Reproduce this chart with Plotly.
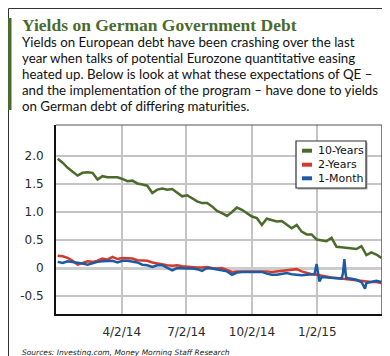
import plotly.graph_objects as go

# ---------------- data ----------------
weeks = [
    "2014-01-02", "2014-01-09", "2014-01-16", "2014-01-23", "2014-01-30",
    "2014-02-06", "2014-02-13", "2014-02-20", "2014-02-27", "2014-03-06",
    "2014-03-13", "2014-03-20", "2014-03-27", "2014-04-03", "2014-04-10",
    "2014-04-17", "2014-04-24", "2014-05-01", "2014-05-08", "2014-05-15",
    "2014-05-22", "2014-05-29", "2014-06-05", "2014-06-12", "2014-06-19",
    "2014-06-26", "2014-07-03", "2014-07-10", "2014-07-17", "2014-07-24",
    "2014-07-31", "2014-08-07", "2014-08-14", "2014-08-21", "2014-08-28",
    "2014-09-04", "2014-09-11", "2014-09-18", "2014-09-25", "2014-10-02",
    "2014-10-09", "2014-10-16", "2014-10-23", "2014-10-30", "2014-11-06",
    "2014-11-13", "2014-11-20", "2014-11-27", "2014-12-04", "2014-12-11",
    "2014-12-18", "2014-12-25", "2015-01-01", "2015-01-08", "2015-01-15",
    "2015-01-22", "2015-01-29", "2015-02-05", "2015-02-12", "2015-02-19",
    "2015-02-26", "2015-03-05", "2015-03-12", "2015-03-19", "2015-03-26",
    "2015-04-02",
]

ten_year = [
    1.95, 1.88, 1.79, 1.72, 1.65, 1.70, 1.71, 1.70, 1.58, 1.64,
    1.62, 1.62, 1.62, 1.59, 1.55, 1.56, 1.51, 1.49, 1.47, 1.34,
    1.40, 1.42, 1.40, 1.41, 1.35, 1.28, 1.30, 1.24, 1.19, 1.16,
    1.16, 1.10, 1.02, 0.98, 0.93, 1.00, 1.08, 1.04, 0.98, 0.92,
    0.89, 0.77, 0.88, 0.86, 0.83, 0.84, 0.77, 0.71, 0.77, 0.65,
    0.60, 0.60, 0.51, 0.50, 0.48, 0.54, 0.38, 0.37, 0.36, 0.35,
    0.34, 0.39, 0.23, 0.28, 0.24, 0.18,
]

two_year = [
    0.22, 0.21, 0.18, 0.13, 0.06, 0.09, 0.12, 0.11, 0.13, 0.17,
    0.15, 0.20, 0.16, 0.18, 0.17, 0.17, 0.14, 0.14, 0.13, 0.10,
    0.08, 0.06, 0.05, 0.04, 0.05, 0.03, 0.02, 0.02, 0.01, 0.01,
    0.02, 0.00, -0.01, 0.00, -0.04, -0.07, -0.06, -0.06, -0.05, -0.05,
    -0.05, -0.05, -0.06, -0.07, -0.06, -0.05, -0.05, -0.04, -0.02, -0.06,
    -0.09, -0.11, -0.12, -0.14, -0.16, -0.17, -0.18, -0.19, -0.20, -0.21,
    -0.23, -0.24, -0.24, -0.25, -0.25, -0.27,
]

one_month_dates = [
    "2014-01-02", "2014-01-09", "2014-01-16", "2014-01-23", "2014-01-30",
    "2014-02-06", "2014-02-13", "2014-02-20", "2014-02-27", "2014-03-06",
    "2014-03-13", "2014-03-20", "2014-03-27", "2014-04-03", "2014-04-10",
    "2014-04-17", "2014-04-24", "2014-05-01", "2014-05-08", "2014-05-15",
    "2014-05-22", "2014-05-29", "2014-06-05", "2014-06-12", "2014-06-19",
    "2014-06-26", "2014-07-03", "2014-07-10", "2014-07-17", "2014-07-24",
    "2014-07-31", "2014-08-07", "2014-08-14", "2014-08-21", "2014-08-28",
    "2014-09-04", "2014-09-11", "2014-09-18", "2014-09-25", "2014-10-02",
    "2014-10-09", "2014-10-16", "2014-10-23", "2014-10-30", "2014-11-06",
    "2014-11-13", "2014-11-20", "2014-11-27", "2014-12-04", "2014-12-11",
    "2014-12-18", "2014-12-25", "2014-12-29", "2015-01-01", "2015-01-05",
    "2015-01-08", "2015-01-15", "2015-01-22", "2015-01-29", "2015-02-05",
    "2015-02-07", "2015-02-09", "2015-02-11", "2015-02-12", "2015-02-19",
    "2015-02-26", "2015-03-05", "2015-03-10", "2015-03-12", "2015-03-19",
    "2015-03-26", "2015-04-02",
]

one_month = [
    0.11, 0.09, 0.12, 0.11, 0.10, 0.08, 0.06, 0.09, 0.11, 0.12,
    0.12, 0.13, 0.10, 0.13, 0.13, 0.11, 0.10, 0.06, 0.05, 0.02,
    0.05, 0.05, 0.00, -0.04, 0.00, -0.01, -0.01, -0.01, -0.02, -0.05,
    0.00, -0.01, -0.03, -0.04, -0.06, -0.12, -0.08, -0.07, -0.07, -0.06,
    -0.06, -0.07, -0.10, -0.12, -0.12, -0.11, -0.09, -0.11, -0.12, -0.13,
    -0.12, -0.12, -0.11, 0.07, -0.24, -0.16, -0.17, -0.17, -0.18, -0.19,
    -0.10, 0.16, -0.12, -0.18, -0.19, -0.21, -0.25, -0.37, -0.27, -0.25,
    -0.23, -0.25,
]

series_names = ["10-Years", "2-Years", "1-Month"]
series_colors = ["#4b6b2c", "#d23a2c", "#1c5aa6"]

y_tick_values = [-0.5, 0, 0.5, 1.0, 1.5, 2.0]
y_tick_labels = ["-0.5", "0", "0.5", "1.0", "1.5", "2.0"]
x_tick_values = ["2014-04-02", "2014-07-02", "2014-10-02", "2015-01-02"]
x_tick_labels = ["4/2/14", "7/2/14", "10/2/14", "1/2/15"]

title_text = "Yields on German Government Debt"
body_lines = [
    "Yields on European debt have been crashing over the last",
    "year when talks of potential Eurozone quantitative easing",
    "heated up. Below is look at what these expectations of QE \u2013",
    "and the implementation of the program \u2013 have done to yields",
    "on German debt of differing maturities.",
]
source_text = "Sources: Investing.com, Money Morning Staff Research"

# ---------------- figure ----------------
W, H = 390, 356
L, R, T, B = 48, 374, 117, 306  # plot area in pixels
pw, ph = R - L, B - T


def px(x):
    return (x - L) / pw


def py(y):
    return (B - y) / ph


fig = go.Figure()
xs_list = [weeks, weeks, one_month_dates]
ys_list = [ten_year, two_year, one_month]
for name, color, xs, ys in zip(series_names, series_colors, xs_list, ys_list):
    fig.add_trace(go.Scatter(
        x=xs, y=ys, mode="lines", name=name,
        line=dict(color=color, width=2.5), showlegend=False,
    ))

tick_font = dict(family="DejaVu Sans", size=12, color="#2a2a2a")

fig.update_layout(
    width=W, height=H,
    margin=dict(l=L, r=W - R, t=T, b=H - B),
    paper_bgcolor="white", plot_bgcolor="white",
    showlegend=False,
    xaxis=dict(
        type="date",
        range=["2013-12-30 15:00", "2015-04-02 22:00"],
        tickvals=x_tick_values, ticktext=x_tick_labels,
        tickfont=tick_font, ticks="", ticklabelstandoff=6,
        showgrid=True, gridcolor="#c4c4c4", gridwidth=1.5,
        showline=True, linecolor="#111", linewidth=2,
        zeroline=False, fixedrange=True,
    ),
    yaxis=dict(
        range=[-0.821, 2.554],
        tickvals=y_tick_values, ticktext=y_tick_labels,
        tickfont=tick_font, ticks="", ticklabelstandoff=8,
        showgrid=True, gridcolor="#c4c4c4", gridwidth=1.5,
        showline=True, linecolor="#111", linewidth=2,
        zeroline=True, zerolinecolor="#cccccc", zerolinewidth=3,
        fixedrange=True,
    ),
)

shapes = []
# top and right frame of the plot area
shapes.append(dict(type="line", xref="paper", yref="paper", x0=0, x1=1, y0=1, y1=1,
                   line=dict(color="#555", width=1)))
shapes.append(dict(type="line", xref="paper", yref="paper", x0=1, x1=1, y0=0, y1=1,
                   line=dict(color="#555", width=1.5)))
# outer border of the whole graphic
shapes.append(dict(type="rect", xref="paper", yref="paper",
                   x0=px(0.5), x1=px(W - 0.5), y0=py(H - 0.5), y1=py(0.5),
                   line=dict(color="#333", width=1), layer="below"))
# green accent bar at left of the header
shapes.append(dict(type="rect", xref="paper", yref="paper",
                   x0=px(0), x1=px(3.5), y0=py(102), y1=py(10),
                   line=dict(width=0), fillcolor="#4b6b2c"))
# legend box (shadow + box)
shapes.append(dict(type="rect", xref="paper", yref="paper",
                   x0=px(289.5), x1=px(359.5), y0=py(181.5), y1=py(134.5),
                   line=dict(width=0), fillcolor="#a8a8a8"))
shapes.append(dict(type="rect", xref="paper", yref="paper",
                   x0=px(288), x1=px(358), y0=py(180), y1=py(133),
                   line=dict(color="#333", width=1.2), fillcolor="white"))

annotations = []
row_y = [142.7, 156.7, 170.3]
for name, color, ry in zip(series_names, series_colors, row_y):
    shapes.append(dict(type="line", xref="paper", yref="paper",
                       x0=px(294), x1=px(304), y0=py(ry), y1=py(ry),
                       line=dict(color=color, width=4)))
    annotations.append(dict(xref="paper", yref="paper", x=px(308), y=py(ry),
                            xanchor="left", yanchor="middle", showarrow=False,
                            text=name, font=dict(family="DejaVu Sans", size=11, color="#111")))

annotations.append(dict(xref="paper", yref="paper", x=px(12), y=py(17.5),
                        xanchor="left", yanchor="middle", showarrow=False,
                        text="<b>" + title_text + "</b>",
                        font=dict(family="Liberation Serif", size=17.5, color="#4b6b2c")))
body_y = [34.4, 50.2, 66.0, 81.8, 97.6]
for line, by in zip(body_lines, body_y):
    annotations.append(dict(xref="paper", yref="paper", x=px(12), y=py(by),
                            xanchor="left", yanchor="middle", showarrow=False,
                            text=line, font=dict(family="Lato", size=13.3, color="#111")))
annotations.append(dict(xref="paper", yref="paper", x=px(12), y=py(344),
                        xanchor="left", yanchor="middle", showarrow=False,
                        text="<i>" + source_text + "</i>",
                        font=dict(family="DejaVu Sans", size=7.5, color="#222")))

fig.update_layout(shapes=shapes, annotations=annotations)
fig.write_html("out.html")
